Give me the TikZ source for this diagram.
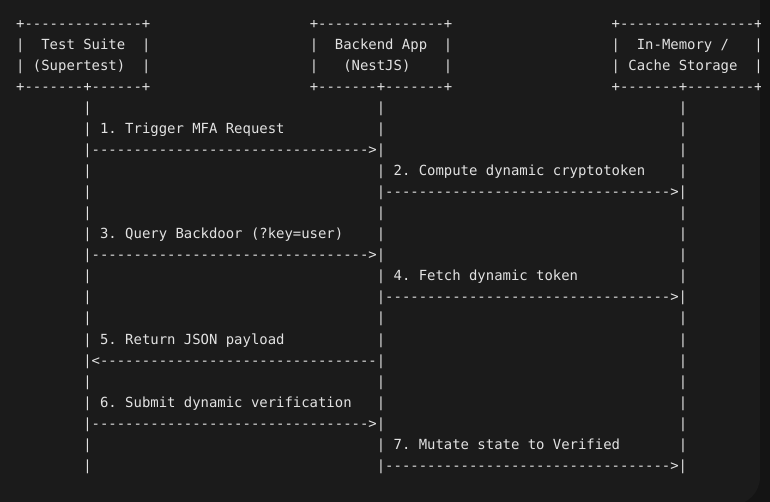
\documentclass[tikz,border=0pt]{standalone}
\usepackage{fontspec}
\setmonofont{DejaVu Sans Mono}
\definecolor{panel}{HTML}{1B1B1B}
\definecolor{outer}{HTML}{141414}
\definecolor{ink}{HTML}{E2E2E2}
\newcommand\cw{8.387}
\newcommand\rh{21.05}
\tikzset{txt/.style={anchor=base west, inner sep=0pt, outer sep=0pt, text=ink,
  font=\ttfamily\frenchspacing\fontsize{13.93}{16}\selectfont}}
\newcommand\txtat[4]{\node[txt] (#1) at ({16.2+#2*\cw},{28.25+#3*\rh}) {#4};}
\begin{document}
\begin{tikzpicture}[x=1pt,y=-1pt]
\useasboundingbox (0,0) rectangle (770,502);
\fill[outer] (0,0) rectangle (770,502);
\fill[panel, rounded corners=28pt] (-40,-40) rectangle (760,505);
\begin{scope}
\clip (0,0) rectangle (760,502);
% boxes
\txtat{b1top}{0}{0}{+--------------+}
\txtat{b2top}{35}{0}{+---------------+}
\txtat{b3top}{71}{0}{+----------------+}
\txtat{b1l1}{0}{1}{|}\txtat{b1t1}{3}{1}{Test Suite}\txtat{b1r1}{15}{1}{|}
\txtat{b2l1}{35}{1}{|}\txtat{b2t1}{38}{1}{Backend App}\txtat{b2r1}{51}{1}{|}
\txtat{b3l1}{71}{1}{|}\txtat{b3t1}{74}{1}{In-Memory /}\txtat{b3r1}{88}{1}{|}
\txtat{b1l2}{0}{2}{|}\txtat{b1t2}{2}{2}{(Supertest)}\txtat{b1r2}{15}{2}{|}
\txtat{b2l2}{35}{2}{|}\txtat{b2t2}{39}{2}{(NestJS)}\txtat{b2r2}{51}{2}{|}
\txtat{b3l2}{71}{2}{|}\txtat{b3t2}{73}{2}{Cache Storage}\txtat{b3r2}{88}{2}{|}
\txtat{b1bot}{0}{3}{+-------+------+}
\txtat{b2bot}{35}{3}{+-------+-------+}
\txtat{b3bot}{71}{3}{+-------+--------+}
% lifeline rows
\foreach \r in {4,5,7,9,10,12,14,15,17,18,20}{\txtat{la\r}{8}{\r}{|}}
\foreach \r in {4,5,7,9,10,12,14,15,17,18,20}{\txtat{lb\r}{43}{\r}{|}}
\foreach \r in {4,5,6,7,9,10,11,12,14,15,16,17,18,19,20}{\txtat{lc\r}{79}{\r}{|}}
\foreach \r in {8,13,21}{\txtat{la\r}{8}{\r}{|}}
% messages
\txtat{m1}{10}{5}{1. Trigger MFA Request}
\txtat{a1}{8}{6}{|--------------------------------->|}
\txtat{m2}{45}{7}{2. Compute dynamic cryptotoken}
\txtat{a2}{43}{8}{|---------------------------------->|}
\txtat{m3}{10}{10}{3. Query Backdoor (?key=user)}
\txtat{a3}{8}{11}{|--------------------------------->|}
\txtat{m4}{45}{12}{4. Fetch dynamic token}
\txtat{a4}{43}{13}{|---------------------------------->|}
\txtat{m5}{10}{15}{5. Return JSON payload}
\txtat{a5}{8}{16}{|<---------------------------------|}
\txtat{m6}{10}{18}{6. Submit dynamic verification}
\txtat{a6}{8}{19}{|--------------------------------->|}
\txtat{m7}{45}{20}{7. Mutate state to Verified}
\txtat{a7}{43}{21}{|---------------------------------->|}
\end{scope}
\end{tikzpicture}
\end{document}
